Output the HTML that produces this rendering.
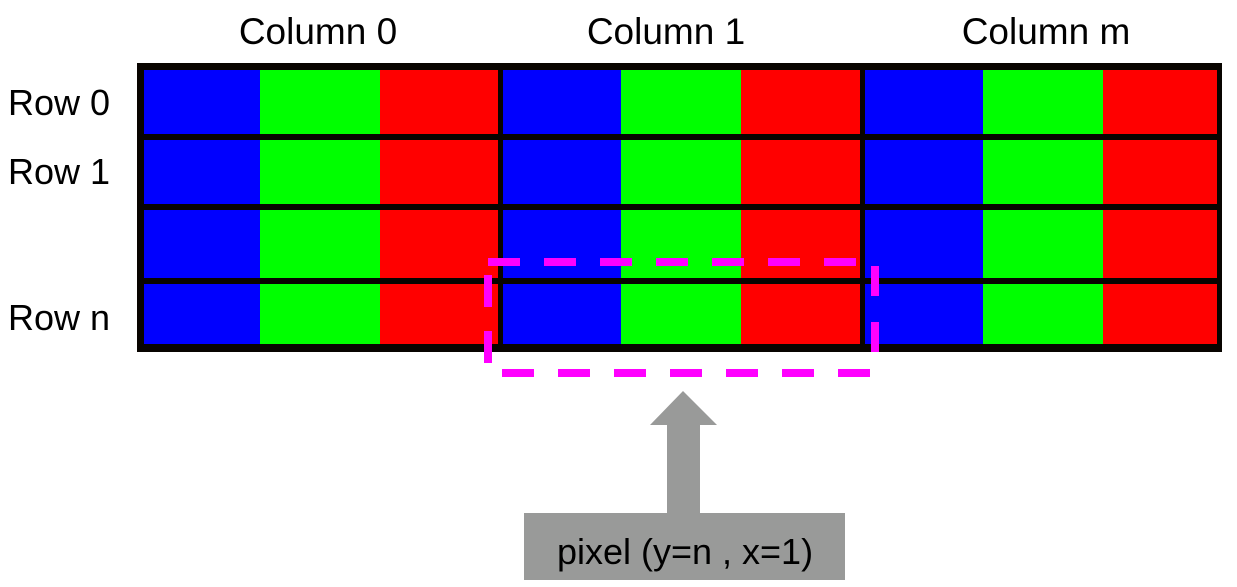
<!DOCTYPE html>
<html><head><style>html,body{margin:0;padding:0;background:#fff;}svg{display:block}</style></head>
<body>
<svg width="1237" height="587" xmlns="http://www.w3.org/2000/svg" font-family="Liberation Sans, Arial, sans-serif">
<g fill="#000" font-size="37">
<text x="318" y="44" text-anchor="middle">Column 0</text>
<text x="666" y="44" text-anchor="middle">Column 1</text>
<text x="1046" y="44" text-anchor="middle">Column m</text>
</g>
<g fill="#000" font-size="36">
<text x="8" y="115">Row 0</text>
<text x="8" y="184">Row 1</text>
<text x="8" y="330">Row n</text>
</g>
<rect x="137" y="63" width="1085" height="289" fill="#080400"/>
<g>
<rect x="144" y="70" width="116" height="274" fill="#0000ff"/>
<rect x="260" y="70" width="120" height="274" fill="#00ff00"/>
<rect x="380" y="70" width="118" height="274" fill="#ff0000"/>
<rect x="503" y="70" width="118" height="274" fill="#0000ff"/>
<rect x="621" y="70" width="120" height="274" fill="#00ff00"/>
<rect x="741" y="70" width="119" height="274" fill="#ff0000"/>
<rect x="865" y="70" width="118" height="274" fill="#0000ff"/>
<rect x="983" y="70" width="120" height="274" fill="#00ff00"/>
<rect x="1103" y="70" width="114" height="274" fill="#ff0000"/>
</g>
<g fill="#080400">
<rect x="137" y="134" width="1085" height="6"/>
<rect x="137" y="204" width="1085" height="6"/>
<rect x="137" y="278" width="1085" height="6"/>
</g>
<g stroke="#ff00ff" stroke-width="8" fill="none">
<line x1="488" y1="262" x2="857" y2="262" stroke-dasharray="32 24"/>
<line x1="502" y1="373" x2="870" y2="373" stroke-dasharray="32 24"/>
<line x1="488" y1="275" x2="488" y2="363" stroke-dasharray="32 24"/>
<line x1="875" y1="266" x2="875" y2="354" stroke-dasharray="30 26"/>
</g>
<polygon points="683,391 717,425 700,425 700,514 667,514 667,425 650,425" fill="#999a99"/>
<rect x="524" y="513" width="321" height="67" fill="#999a99"/>
<text x="685" y="564" text-anchor="middle" font-size="36" fill="#000">pixel (y=n , x=1)</text>
</svg>
</body></html>
